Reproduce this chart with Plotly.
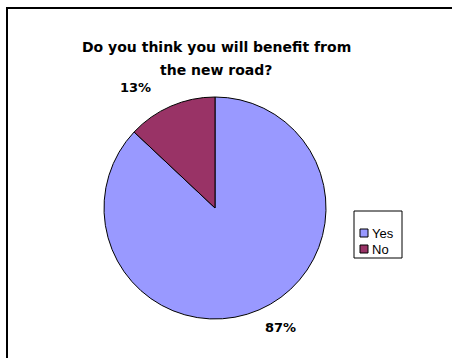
import plotly.graph_objects as go

# Survey answers
categories = ["Yes", "No"]
shares = [87, 13]
colors = ["#9999FF", "#993366"]
title_lines = ["Do you think you will benefit from", "the new road?"]

W, H = 452, 358

fig = go.Figure()

# Pie: first slice starts at 12 o'clock and runs clockwise
cx, cy, r = 215, 208, 111
fig.add_trace(go.Pie(
    labels=categories,
    values=shares,
    sort=False,
    direction="clockwise",
    rotation=0,
    marker=dict(colors=colors, line=dict(color="black", width=1)),
    textinfo="none",
    hoverinfo="label+percent",
    showlegend=False,
    domain=dict(x=[(cx - r) / W, (cx + r) / W], y=[1 - (cy + r) / H, 1 - (cy - r) / H]),
))

# Chart frame: top and left edges, running off the page (clipped by the plot area)
fig.add_trace(go.Scatter(
    x=[7, 7, W + 10], y=[H + 10, 8, 8], mode="lines",
    line=dict(color="black", width=2), hoverinfo="skip", showlegend=False,
))

total = sum(shares)
annotations = []
shapes = []

# Title, one annotation per line
for text, ty in zip(title_lines, [47, 70]):
    annotations.append(dict(
        text="<b>" + text + "</b>", x=216, y=ty, xref="x", yref="y",
        xanchor="center", yanchor="middle", showarrow=False,
        font=dict(family="DejaVu Sans", size=14, color="black"),
    ))

# Percentage labels
label_pos = [(280, 327), (135, 87)]
for v, (lx, ly) in zip(shares, label_pos):
    annotations.append(dict(
        text="<b>%d%%</b>" % round(100 * v / total), x=lx, y=ly,
        xref="x", yref="y", showarrow=False,
        xanchor="center", yanchor="middle",
        font=dict(family="DejaVu Sans", size=13, color="black"),
    ))

# Legend box
lx0, ly0, lx1, ly1 = 354, 211, 402, 258
shapes.append(dict(type="rect", xref="x", yref="y",
                   x0=lx0, x1=lx1, y0=ly0, y1=ly1,
                   line=dict(color="black", width=1), fillcolor="white"))
item_y = [233, 249]
for name, col, iy in zip(categories, colors, item_y):
    shapes.append(dict(type="rect", xref="x", yref="y",
                       x0=360, x1=368, y0=iy - 4, y1=iy + 4,
                       line=dict(color="black", width=1), fillcolor=col))
    annotations.append(dict(
        text=name, x=370, y=iy, xref="x", yref="y",
        xanchor="left", yanchor="middle", showarrow=False,
        font=dict(family="Liberation Sans", size=13, color="black"),
    ))

fig.update_layout(
    width=W, height=H,
    margin=dict(l=0, r=0, t=0, b=0),
    paper_bgcolor="white",
    plot_bgcolor="white",
    xaxis=dict(range=[0, W], visible=False, domain=[0, 1], fixedrange=True),
    yaxis=dict(range=[H, 0], visible=False, domain=[0, 1], fixedrange=True),
    shapes=shapes,
    annotations=annotations,
)

fig.write_html("out.html")
